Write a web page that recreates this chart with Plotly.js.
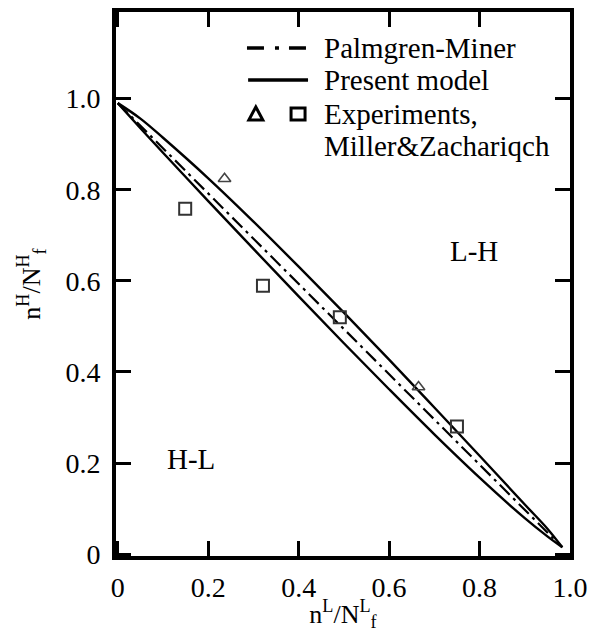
<!DOCTYPE html>
<html>
<head>
<meta charset="utf-8">
<script src="https://cdn.plot.ly/plotly-3.0.1.min.js"></script>
<style>html,body{margin:0;padding:0;background:#fff;}#chart{width:592px;height:632px;}</style>
</head>
<body>
<div id="chart"></div>
<script>
// ---- data ----
const minerX = [0.0, 0.983];
const minerY = [0.99, 0.015];
const modelX = [0, 0.05, 0.1, 0.2, 0.3, 0.4, 0.5, 0.6, 0.7, 0.8, 0.9, 0.95, 0.983];
const modelLH = [0.99, 0.956, 0.914, 0.825, 0.730, 0.631, 0.530, 0.427, 0.322, 0.216, 0.109, 0.056, 0.015];
const modelHL = [0.99, 0.935, 0.881, 0.775, 0.670, 0.566, 0.463, 0.362, 0.263, 0.168, 0.079, 0.039, 0.015];
const triX = [0.236, 0.665];
const triY = [0.824, 0.367];
const sqX = [0.149, 0.321, 0.491, 0.750];
const sqY = [0.758, 0.589, 0.520, 0.280];
const tickVals = [0, 0.2, 0.4, 0.6, 0.8, 1.0];
const tickText = ['0', '0.2', '0.4', '0.6', '0.8', '1.0'];
const legendLabels = ['Palmgren-Miner', 'Present model', 'Experiments,', 'Miller&Zachariqch'];
const regionLabels = ['L-H', 'H-L'];
const regionX = [0.787, 0.161];
const regionY = [0.666, 0.21];
const xTitle = 'n<sup>L</sup>/N<sup>L</sup><sub>f</sub>';
const yTitle = 'n<sup>H</sup>/N<sup>H</sup><sub>f</sub>';

const FONT = '"Liberation Serif", "Times New Roman", Times, serif';
const fs = 28;
const legFs = 29;
const titleFs = 26;

const traces = [
  {x: minerX, y: minerY, mode: 'lines', name: legendLabels[0], showlegend: false,
   line: {color: '#000', width: 2.2, dash: '14px,5px,3px,5px'}},
  {x: modelX, y: modelLH, mode: 'lines', name: legendLabels[1], showlegend: false,
   line: {color: '#000', width: 2.4, shape: 'spline'}},
  {x: modelX, y: modelHL, mode: 'lines', name: legendLabels[1], showlegend: false,
   line: {color: '#000', width: 2.4, shape: 'spline'}},
  {x: triX, y: triY, mode: 'markers', name: 'tri', showlegend: false,
   marker: {symbol: 'triangle-up-open', size: 11, color: '#444', line: {width: 1.6, color: '#444'}}},
  {x: sqX, y: sqY, mode: 'markers', name: 'sq', showlegend: false,
   marker: {symbol: 'square-open', size: 12, color: '#333', line: {width: 2, color: '#333'}}}
];

// legend layout (paper coordinates)
const legTextX = 0.4537;
const legRowY = [0.934, 0.875, 0.8125, 0.7537];

const annotations = legendLabels.map((t, i) => ({
  xref: 'paper', yref: 'paper', x: legTextX, y: legRowY[i], xanchor: 'left', yanchor: 'middle',
  text: t, showarrow: false, font: {family: FONT, size: legFs, color: '#000'}
})).concat(regionLabels.map((t, i) => ({
  xref: 'x', yref: 'y', x: regionX[i], y: regionY[i], xanchor: 'center', yanchor: 'middle',
  text: t, showarrow: false, font: {family: FONT, size: legFs, color: '#000'}
})));

const shapes = [
  {type: 'line', xref: 'paper', yref: 'paper', x0: 0.2885, x1: 0.4185, y0: legRowY[0], y1: legRowY[0],
   line: {color: '#000', width: 3.5, dash: '17px,11px,4px,10px'}},
  {type: 'line', xref: 'paper', yref: 'paper', x0: 0.291, x1: 0.423, y0: legRowY[1], y1: legRowY[1],
   line: {color: '#000', width: 3.5}},
  {type: 'path', xref: 'paper', yref: 'paper', xsizemode: 'pixel', ysizemode: 'pixel',
   xanchor: 0.308, yanchor: legRowY[2], path: 'M-7,-6 L7,-6 L0,7 Z',
   line: {color: '#000', width: 3}},
  {type: 'rect', xref: 'paper', yref: 'paper', xsizemode: 'pixel', ysizemode: 'pixel',
   xanchor: 0.401, yanchor: legRowY[2], x0: -7, x1: 7, y0: -6, y1: 6,
   line: {color: '#000', width: 3}}
];

const axisCommon = {
  showline: true, linecolor: '#000', linewidth: 4, mirror: 'allticks',
  ticks: 'inside', ticklen: 15, tickwidth: 3, tickcolor: '#000',
  showgrid: false, zeroline: false,
  tickvals: tickVals, ticktext: tickText,
  tickfont: {family: FONT, size: fs, color: '#000'}
};

const layout = {
  width: 592, height: 632,
  margin: {l: 116, r: 22, t: 12, b: 76},
  paper_bgcolor: '#fff', plot_bgcolor: '#fff',
  showlegend: false,
  xaxis: Object.assign({}, axisCommon, {
    range: [-0.004, 1.0], ticklabelstandoff: 3,
    title: {text: xTitle, font: {family: FONT, size: titleFs, color: '#000'}, standoff: 12}
  }),
  yaxis: Object.assign({}, axisCommon, {
    range: [-0.004, 1.19], ticklabelstandoff: 6,
    title: {text: yTitle, font: {family: FONT, size: titleFs, color: '#000'}, standoff: 18}
  }),
  annotations: annotations,
  shapes: shapes
};

Plotly.newPlot('chart', traces, layout, {displayModeBar: false, staticPlot: true});
</script>
</body>
</html>
